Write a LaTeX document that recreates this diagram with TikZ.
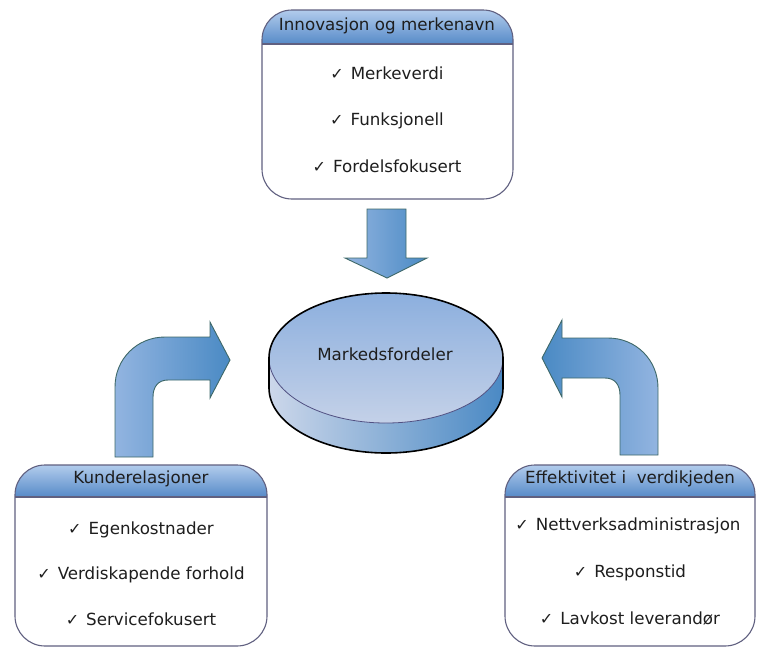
\documentclass[tikz,border=0pt]{standalone}
\usepackage{fontspec}
\setmainfont{DejaVu Sans}
\definecolor{hdrtop}{RGB}{178,204,236}
\definecolor{hdrbot}{RGB}{86,138,200}
\definecolor{panelline}{RGB}{96,96,128}
\definecolor{arrlight}{RGB}{146,180,224}
\definecolor{arrdark}{RGB}{74,138,196}
\definecolor{arrline}{RGB}{62,104,104}
\definecolor{facetop}{RGB}{140,175,222}
\definecolor{facebot}{RGB}{196,209,232}
\definecolor{sidel}{RGB}{204,215,234}
\definecolor{sider}{RGB}{74,137,196}
\definecolor{rimline}{RGB}{80,80,130}
\definecolor{ink}{RGB}{30,30,30}
\newcommand{\tick}{{\fontsize{16}{16}\selectfont ✓}\hspace{7pt}}
% a white panel whose top band (#2 pt deep) carries a shaded heading
\newcommand{\panelhead}[2]{%
  \begin{scope}
    \clip[rounded corners=30pt] (#1.north west) rectangle (#1.south east);
    \shade[top color=hdrtop, bottom color=hdrbot]
      (#1.north west) rectangle ([yshift=-#2pt]#1.north east);
  \end{scope}
  \draw[panelline, line width=1.1pt]
    ([yshift=-#2pt]#1.north west) -- ([yshift=-#2pt]#1.north east);
  \draw[panelline, line width=1.1pt, rounded corners=30pt]
    (#1.north west) rectangle (#1.south east);
}
\tikzset{
  panel/.style 2 args={fill=white, rounded corners=30pt, inner sep=0pt,
    outer sep=0pt, minimum width=#1pt, minimum height=#2pt},
  label/.style={font=\fontsize{16.7}{20}\selectfont, text=ink, inner sep=0pt, anchor=mid},
  blockarrow/.style={draw=arrline, line width=0.9pt, line join=miter},
}
\begin{document}
\begin{tikzpicture}[x=1pt, y=-1pt]
\useasboundingbox (0,0) rectangle (757,648);

% three panels with shaded headings
\node[panel={251}{189}] (innov) at (387.5,104.5) {};
\node[panel={252}{181}] (kunde) at (141,555.5) {};
\node[panel={250}{181}] (effekt) at (630,555.5) {};
\panelhead{innov}{34}
\panelhead{kunde}{32}
\panelhead{effekt}{32}

% panel headings
\node[label] (innovT) at (387,28) {Innovasjon og merkenavn};
\node[label] (kundeT) at (141,481) {Kunderelasjoner};
\node[label] (effektT) at (630,481) {Effektivitet i\ \ verdikjeden};

% panel items
\node[label] (i1) at (387,77) {\tick Merkeverdi};
\node[label] (i2) at (387,123) {\tick Funksjonell};
\node[label] (i3) at (387,170) {\tick Fordelsfokusert};

\node[label] (k1) at (141,532) {\tick Egenkostnader};
\node[label] (k2) at (141,577) {\tick Verdiskapende forhold};
\node[label] (k3) at (141,623) {\tick Servicefokusert};

\node[label] (e1) at (628,528) {\tick Nettverksadministrasjon};
\node[label] (e2) at (630,575) {\tick Responstid};
\node[label] (e3) at (630,622) {\tick Lavkost leverandør};

% central disc: side band, top face, outlines
\shade[left color=sidel, right color=sider]
  (269,358) -- (269,388)
  arc[start angle=180, end angle=0, x radius=117, y radius=65]
  -- (503,358)
  arc[start angle=0, end angle=180, x radius=117, y radius=65] -- cycle;
\shade[top color=facetop, bottom color=facebot]
  (386,358) ellipse [x radius=117, y radius=65];
\draw[rimline, line width=0.8pt]
  (503,358) arc[start angle=0, end angle=180, x radius=117, y radius=65];
\draw[black, line width=1.6pt, line join=round]
  (503,358) arc[start angle=0, end angle=-180, x radius=117, y radius=65]
  -- (269,388)
  arc[start angle=180, end angle=0, x radius=117, y radius=65] -- cycle;
\node[label] (disc) at (385,358) {Markedsfordeler};

% downward block arrow
\shadedraw[blockarrow, left color=arrlight, right color=arrdark]
  (367,209) -- (406,209) -- (406,258) -- (427,258) -- (387,278)
  -- (345,258) -- (367,258) -- cycle;

% bent block arrow, lower left
\shadedraw[blockarrow, left color=arrlight, right color=arrdark]
  (115,457) -- (153,457) -- (153,397)
  .. controls (153,387) and (158,380) .. (168,380)
  -- (210,380) -- (210,398) -- (230,360) -- (210,322) -- (210,337)
  -- (165,337) .. controls (137,337) and (115,359) .. (115,387) -- cycle;

% bent block arrow, lower right
\shadedraw[blockarrow, left color=arrdark, right color=arrlight]
  (658,455) -- (620,455) -- (620,395)
  .. controls (620,385) and (615,378) .. (605,378)
  -- (562,378) -- (562,397) -- (542,358) -- (562,320) -- (562,338)
  -- (608,338) .. controls (636,338) and (658,360) .. (658,388) -- cycle;
\end{tikzpicture}
\end{document}
